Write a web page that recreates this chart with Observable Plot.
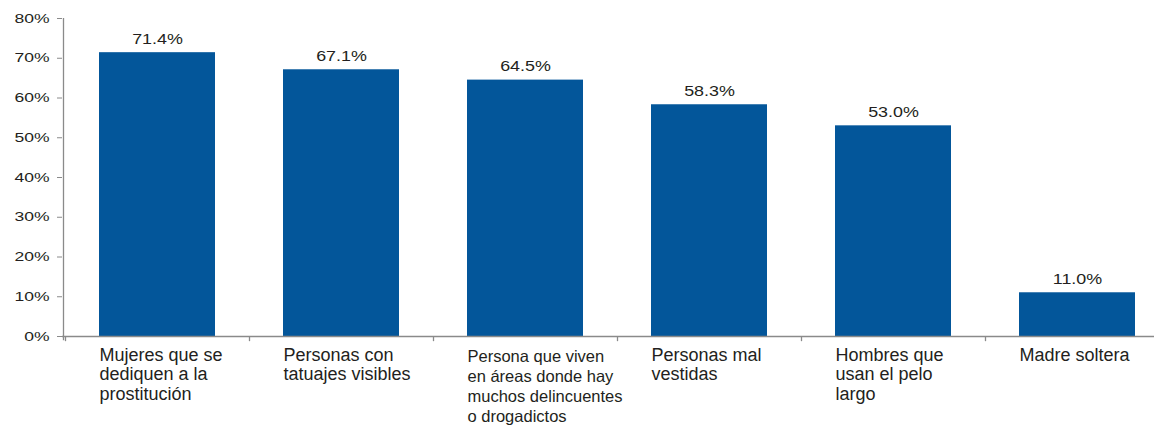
<!DOCTYPE html>
<html><head><meta charset="utf-8">
<script src="https://cdn.jsdelivr.net/npm/d3@7"></script>
<script src="https://cdn.jsdelivr.net/npm/@observablehq/plot@0.6"></script>
<style>body{margin:0;background:#fff;overflow:hidden;}</style>
</head><body><div id="chart"></div>
<script>
const categories = [
  "Mujeres que se\ndediquen a la\nprostitución",
  "Personas con\ntatuajes visibles",
  "Persona que viven\nen áreas donde hay\nmuchos delincuentes\no drogadictos",
  "Personas mal\nvestidas",
  "Hombres que\nusan el pelo\nlargo",
  "Madre soltera"
];
const values = [71.4, 67.1, 64.5, 58.3, 53.0, 11.0];
const valueLabels = ["71.4%", "67.1%", "64.5%", "58.3%", "53.0%", "11.0%"];
const yTicks = [0, 10, 20, 30, 40, 50, 60, 70, 80];
const yTickLabels = ["0%", "10%", "20%", "30%", "40%", "50%", "60%", "70%", "80%"];

const data = categories.map((c, i) => ({category: c, value: values[i], label: valueLabels[i]}));
const longLabel = categories[2];

const axisColor = "#8a8a8a";
const textColor = "#231f20";

const chart = Plot.plot({
  width: 1154,
  height: 425,
  marginLeft: 62,
  marginRight: 0,
  marginTop: 18,
  marginBottom: 89,
  style: {fontFamily: "'Liberation Sans', Arial, sans-serif", background: "#fff", color: textColor},
  x: {domain: categories, range: [64, 1169], paddingInner: 0.37, paddingOuter: 0.185, axis: null},
  y: {domain: [0, 80], axis: null},
  marks: [
    Plot.barY(data, {x: "category", y: "value", fill: "#03569a"}),
    Plot.ruleY([0], {stroke: axisColor, strokeWidth: 1.3}),
    Plot.ruleX([categories[0]], {dx: -94, y1: -1.1, y2: 80, stroke: axisColor, strokeWidth: 1.3}),
    Plot.ruleX(categories, {x: d => d, dx: -92, y1: 0, y2: -1.3, stroke: axisColor, strokeWidth: 1.3}),
    Plot.axisY(yTicks, {
      ticks: yTicks,
      tickFormat: (d) => yTickLabels[yTicks.indexOf(d)],
      tickSize: 5, tickPadding: 8, stroke: axisColor, fill: textColor, fontSize: 13, label: null
    }),
    Plot.text(data, {
      x: "category", y: "value", text: "label", lineAnchor: "bottom", dy: -9,
      fontSize: 14, fill: textColor
    }),
    Plot.text(data.filter(d => d.category !== longLabel), {
      x: "category", y: 0, text: "category", textAnchor: "start", lineAnchor: "top",
      dx: -58, dy: 11, fontSize: 18, lineHeight: 1.07, fill: textColor
    }),
    Plot.text(data.filter(d => d.category === longLabel), {
      x: "category", y: 0, text: "category", textAnchor: "start", lineAnchor: "top",
      dx: -58, dy: 11, fontSize: 16.5, lineHeight: 1.22, fill: textColor
    })
  ]
});
document.getElementById("chart").append(chart);

// widen the small numeric labels horizontally about their anchor, as in the original
chart.querySelectorAll("text").forEach(t => {
  const s = t.textContent.trim();
  let k = 0;
  if (valueLabels.includes(s)) k = 1.28;
  else if (yTickLabels.includes(s)) k = 1.35;
  if (!k) return;
  const tr = t.getAttribute("transform") || "";
  const x0 = parseFloat(t.getAttribute("x") || "0") || 0;
  t.setAttribute("transform", `${tr} translate(${x0},0) scale(${k},1) translate(${-x0},0)`);
});
</script>
</body></html>
